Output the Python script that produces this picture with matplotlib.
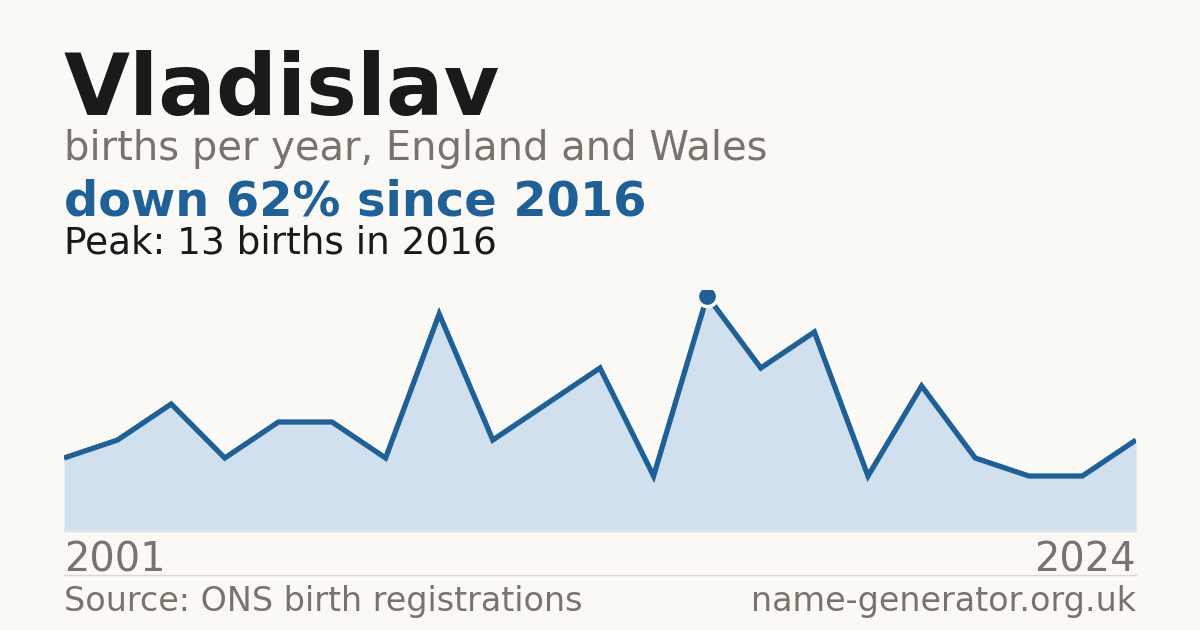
import os
import matplotlib
matplotlib.use("Agg")
import matplotlib.pyplot as plt
from matplotlib.lines import Line2D
from matplotlib.font_manager import FontProperties

ttf = os.path.join(matplotlib.get_data_path(), "fonts", "ttf")
REG = os.path.join(ttf, "DejaVuSans.ttf")
BOLD = os.path.join(ttf, "DejaVuSans-Bold.ttf")

def fp(size, bold=False):
    return FontProperties(fname=BOLD if bold else REG, size=size)

years = [2001, 2002, 2003, 2004, 2005, 2006, 2007, 2008, 2010, 2011, 2012, 2014, 2016,
         2017, 2018, 2019, 2020, 2021, 2022, 2023, 2024]
births = [4, 5, 7, 4, 6, 6, 4, 12, 5, 7, 9, 3, 13, 9, 11, 3, 8, 4, 3, 3, 5]

name = "Vladislav"
subtitle = "births per year, England and Wales"
headline = "down 62% since 2016"
peak_text = "Peak: 13 births in 2016"
source = "Source: ONS birth registrations"
site = "name-generator.org.uk"

BG = "#faf9f5"
LINE = "#1f6096"
FILL = "#d0e0ef"
GREY = "#78736b"
DARK = "#1a1a1a"

W, H = 1200, 630
fig = plt.figure(figsize=(12, 6.3), dpi=100, facecolor=BG)

def fy(py):
    return 1 - py / H

x0, x1 = 64, 1136
ax = fig.add_axes([x0 / W, fy(530), (x1 - x0) / W, 240 / H])
ax.set_facecolor(BG)
ax.patch.set_alpha(0)
idx = list(range(len(births)))
ax.fill_between(idx, births, 0, color=FILL, lw=0)
ax.plot(idx, births, color=LINE, lw=3.8, solid_joinstyle="miter", solid_capstyle="butt")
pk = births.index(max(births))
ax.plot([idx[pk]], [births[pk]], "o", ms=14.5, color=LINE, mec=BG, mew=2.5, zorder=5)
ax.set_xlim(0, len(births) - 1)
ax.set_ylim(0, 13.333)
ax.axis("off")

fig.add_artist(Line2D([x0 / W, x1 / W], [fy(530.5)] * 2, color="#e6e0d6", lw=1))
fig.add_artist(Line2D([x0 / W, x1 / W], [fy(574.5)] * 2, color="#dcd8d0", lw=1))

fig.text(x0 / W, fy(115), name, fontproperties=fp(61.5, True), color=DARK, va="baseline")
fig.text(x0 / W, fy(160), subtitle, fontproperties=fp(28.8), color=GREY, va="baseline")
fig.text(x0 / W, fy(215), headline, fontproperties=fp(34.5, True), color=LINE, va="baseline")
fig.text(x0 / W, fy(254), peak_text, fontproperties=fp(26.9), color=DARK, va="baseline")

fig.text(x0 / W, fy(571), str(years[0]), fontproperties=fp(28.8), color=GREY, va="baseline")
fig.text(x1 / W, fy(571), str(years[-1]), fontproperties=fp(28.8), color=GREY, va="baseline", ha="right")
fig.text(x0 / W, fy(611), source, fontproperties=fp(24), color=GREY, va="baseline")
fig.text(x1 / W, fy(611), site, fontproperties=fp(24), color=GREY, va="baseline", ha="right")

fig.savefig("out.png", dpi=100, facecolor=BG)
